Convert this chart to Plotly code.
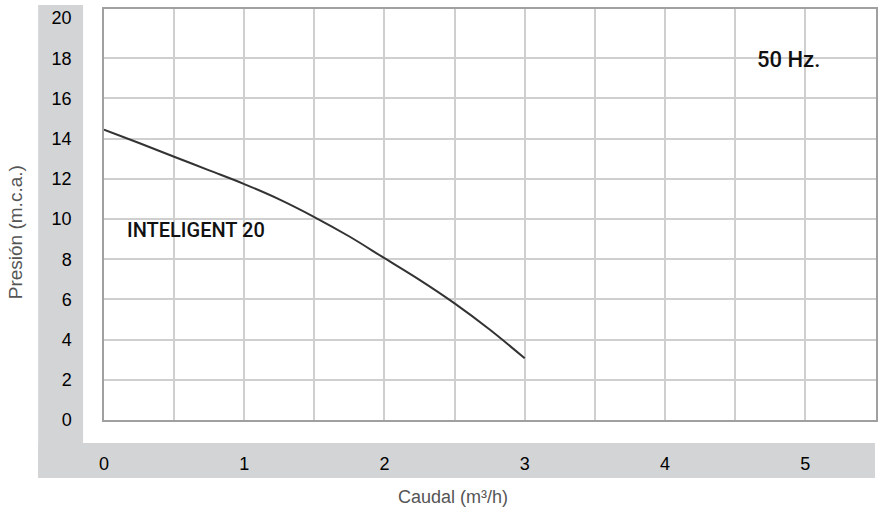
import plotly.graph_objects as go

# Data
caudal = [0.0, 0.25, 0.5, 0.75, 1.0, 1.25, 1.5, 1.75, 2.0, 2.25, 2.5, 2.75, 3.0]
presion = [14.45, 13.78, 13.1, 12.42, 11.74, 10.98, 10.1, 9.13, 8.05, 6.97, 5.80, 4.50, 3.07]
x_ticks = [0, 1, 2, 3, 4, 5]
y_ticks = [0, 2, 4, 6, 8, 10, 12, 14, 16, 18, 20]
y_grid = [2, 4, 6, 8, 10, 12, 14, 16, 18]
series_label = "INTELIGENT 20"
freq_label = "50 Hz."
x_title = "Caudal (m³/h)"
y_title = "Presión (m.c.a.)"

W, H = 880, 513
L, R, T, B = 104, 2, 9, 93
PW, PH = W - L - R, H - T - B


def xp(px):
    return (px - L) / PW


def yp(py):
    return (H - B - py) / PH


FONT = "Liberation Sans, Arial, sans-serif"
LABEL_FONT = "Roboto, Liberation Sans, Arial, sans-serif"
BAND = "#d3d4d6"
GRID = "#cfcfcf"
FRAME = "#a0a0a0"

fig = go.Figure()
fig.add_trace(go.Scatter(
    x=caudal, y=presion, mode="lines",
    line=dict(color="#333333", width=2, shape="spline", smoothing=1.0),
    hoverinfo="skip", showlegend=False,
))

shapes = [
    dict(type="rect", xref="paper", yref="paper", layer="below",
         x0=xp(38), x1=xp(83), y0=yp(478), y1=yp(5),
         fillcolor=BAND, line=dict(width=0)),
    dict(type="rect", xref="paper", yref="paper", layer="below",
         x0=xp(38), x1=xp(877), y0=yp(478), y1=yp(443),
         fillcolor=BAND, line=dict(width=0)),
    dict(type="rect", xref="paper", yref="paper", layer="between",
         x0=xp(116), x1=xp(282), y0=yp(245), y1=yp(214),
         fillcolor="white", line=dict(width=0)),
    dict(type="rect", xref="paper", yref="paper", layer="between",
         x0=xp(740), x1=xp(833), y0=yp(77), y1=yp(43),
         fillcolor="white", line=dict(width=0)),
]

annotations = [
    dict(text=series_label, xref="paper", yref="paper", x=xp(196), y=yp(230),
         showarrow=False, xanchor="center", yanchor="middle",
         font=dict(family=LABEL_FONT, size=20, color="#111111", weight=500)),
    dict(text=freq_label, xref="paper", yref="paper", x=xp(790), y=yp(60),
         showarrow=False, xanchor="center", yanchor="middle",
         font=dict(family=LABEL_FONT, size=22, color="#111111", weight=500)),
    dict(text=x_title, xref="paper", yref="paper", x=xp(454), y=yp(497),
         showarrow=False, xanchor="center", yanchor="middle",
         font=dict(family=FONT, size=18, color="#555555")),
    dict(text=y_title, xref="paper", yref="paper", x=xp(15), y=yp(232),
         showarrow=False, xanchor="center", yanchor="middle", textangle=-90,
         font=dict(family=FONT, size=19, color="#555555")),
]

fig.update_layout(
    width=W, height=H,
    margin=dict(l=L, r=R, t=T, b=B, pad=0),
    paper_bgcolor="white", plot_bgcolor="white",
    shapes=shapes, annotations=annotations, showlegend=False,
    xaxis=dict(
        range=[0, 5.505], tickvals=x_ticks, ticktext=[str(v) for v in x_ticks],
        showgrid=True, gridcolor=GRID, gridwidth=1.5,
        minor=dict(dtick=0.5, tick0=0, showgrid=True, gridcolor=GRID, gridwidth=1.5),
        showline=True, linecolor=FRAME, linewidth=1.5, mirror=True,
        zeroline=False, ticks="", ticklabelstandoff=27,
        tickfont=dict(family=FONT, size=18, color="#000000"),
        fixedrange=True,
    ),
    yaxis=dict(
        range=[0, 20.45], tickvals=y_ticks, ticktext=[str(v) for v in y_ticks],
        showgrid=False,
        minor=dict(tickvals=y_grid, showgrid=True, gridcolor=GRID, gridwidth=1.5),
        showline=True, linecolor=FRAME, linewidth=1.5, mirror=True,
        zeroline=False, ticks="", ticklabelstandoff=27,
        tickfont=dict(family=FONT, size=18, color="#000000"),
        fixedrange=True,
    ),
)

fig.write_html("out.html")
